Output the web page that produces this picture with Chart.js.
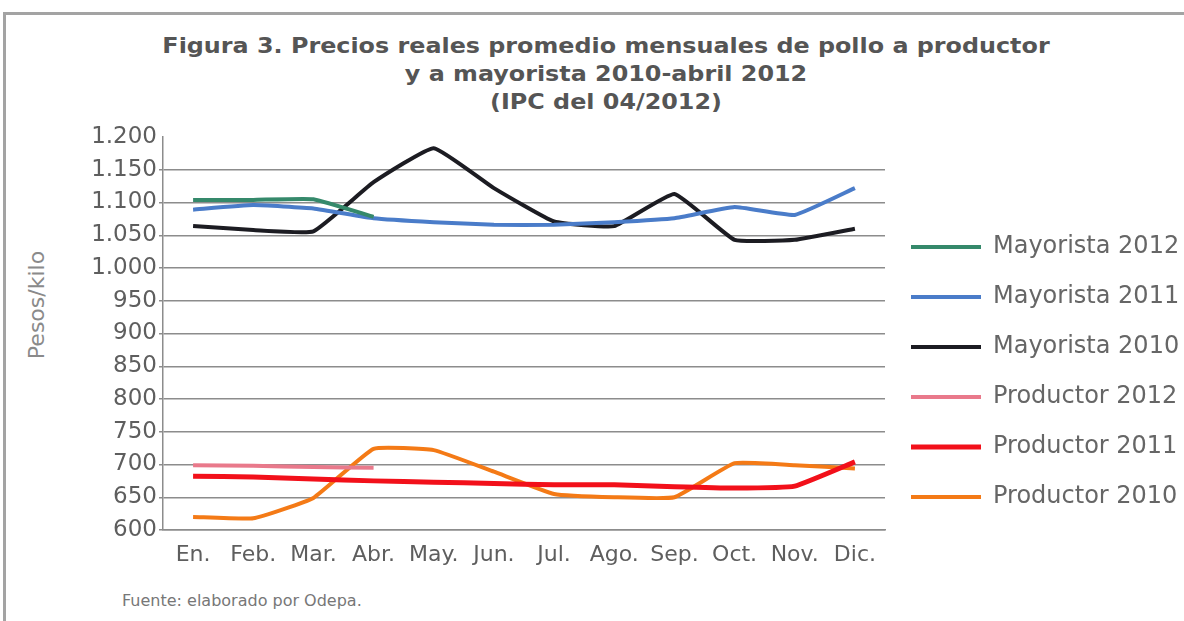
<!DOCTYPE html>
<html>
<head>
<meta charset="utf-8">
<script src="https://cdn.jsdelivr.net/npm/chart.js@4.4.1/dist/chart.umd.min.js"></script>
<style>
  html, body { margin: 0; padding: 0; background: #fff; }
  body { width: 1184px; height: 621px; position: relative; overflow: hidden; font-family: 'DejaVu Sans', sans-serif; }
  .frame { position: absolute; left: 3px; top: 12px; width: 1400px; height: 800px; border-top: 3px solid #a3a3a3; border-left: 3px solid #a3a3a3; }
  .title { position: absolute; left: 0; top: 32px; width: 1212px; text-align: center; font-weight: bold; font-size: 21px; line-height: 28px; color: #555; transform: scaleX(1.135); transform-origin: 606px 0; }
  .ytitle { position: absolute; left: 36px; top: 305px; transform: translate(-50%, -50%) rotate(-90deg); font-size: 22px; color: #8a8a8a; white-space: nowrap; }
  .source { position: absolute; left: 122px; top: 591px; font-size: 16px; color: #777; }
  #chartBox { position: absolute; left: 0; top: 0; width: 1184px; height: 621px; }
</style>
</head>
<body>
<div class="frame"></div>
<div class="title">Figura 3. Precios reales promedio mensuales de pollo a productor<br>y a mayorista 2010-abril 2012<br>(IPC del 04/2012)</div>
<div class="ytitle">Pesos/kilo</div>
<div class="source">Fuente: elaborado por Odepa.</div>
<div id="chartBox"><canvas id="priceChart"></canvas></div>
<script>
const months = ['En.', 'Feb.', 'Mar.', 'Abr.', 'May.', 'Jun.', 'Jul.', 'Ago.', 'Sep.', 'Oct.', 'Nov.', 'Dic.'];

const mayorista2012 = [1104, 1104, 1105, 1078];
const mayorista2011 = [1089, 1096, 1091, 1076, 1070, 1066, 1066, 1070, 1076, 1093, 1081, 1122];
const mayorista2010 = [1064, 1058, 1056, 1131, 1183, 1122, 1071, 1064, 1113, 1043, 1043, 1060];
const productor2012 = [699, 698, 696, 695];
const productor2011 = [682, 681, 678, 675, 673, 671, 669, 669, 666, 664, 667, 704];
const productor2010 = [620, 618, 649, 724, 722, 689, 655, 650, 650, 702, 699, 694];

const yMin = 600;
const yMax = 1200;
const yStep = 50;

function fmtThousands(v) {
    const s = String(Math.round(v));
    return s.length > 3 ? s.slice(0, -3) + '.' + s.slice(-3) : s;
}

function line(label, data, color, width) {
    return {
        label: label,
        data: data,
        borderColor: color,
        backgroundColor: color,
        borderWidth: width,
        pointRadius: 0,
        tension: 0.12,
    };
}

// the legend column sits a bit higher than Chart.js puts it with align 'end'
const liftLegend = {
    id: 'liftLegend',
    afterLayout(chart) {
        const lg = chart.legend;
        if (!lg) {
            return;
        }
        lg.top -= 35;
        lg.bottom -= 35;
    },
};

const canvas = document.getElementById('priceChart');

new Chart(canvas, {
    type: 'line',
    data: {
        labels: months,
        datasets: [
            line('Mayorista 2012', mayorista2012, '#35896b', 4),
            line('Mayorista 2011', mayorista2011, '#4a7cc9', 4),
            line('Mayorista 2010', mayorista2010, '#1c1c22', 4),
            line('Productor 2012', productor2012, '#e9798b', 4),
            line('Productor 2011', productor2011, '#f2101a', 5),
            line('Productor 2010', productor2010, '#f47a16', 4),
        ],
    },
    plugins: [liftLegend],
    options: {
        responsive: true,
        maintainAspectRatio: false,
        animation: false,
        layout: { padding: { top: 137, left: 0, right: 4, bottom: 51 } },
        plugins: {
            title: { display: false },
            tooltip: { enabled: false },
            legend: {
                position: 'right',
                align: 'end',
                labels: {
                    usePointStyle: true,
                    pointStyle: 'line',
                    pointStyleWidth: 70,
                    padding: 26,
                    color: '#666',
                    font: { family: 'DejaVu Sans', size: 24 },
                },
            },
        },
        scales: {
            x: {
                offset: true,
                grid: { display: false },
                border: { color: '#8c8c8c', width: 1.5 },
                ticks: { color: '#5e5e5e', padding: 4, maxRotation: 0, autoSkip: false, font: { family: 'DejaVu Sans', size: 22 } },
                afterFit: (scale) => { scale.height = 40; },
            },
            y: {
                min: yMin,
                max: yMax,
                grid: {
                    color: (ctx) => (ctx.tick && ctx.tick.value === yMax ? 'rgba(0,0,0,0)' : '#8c8c8c'),
                    lineWidth: 1.5,
                    tickLength: 4,
                },
                border: { color: '#8c8c8c', width: 1.5 },
                ticks: {
                    stepSize: yStep,
                    padding: 2,
                    color: '#5e5e5e',
                    font: { family: 'DejaVu Sans', size: 23 },
                    callback: (v) => fmtThousands(v),
                },
                afterFit: (scale) => { scale.width = 163; },
            },
        },
    },
});
</script>
</body>
</html>
